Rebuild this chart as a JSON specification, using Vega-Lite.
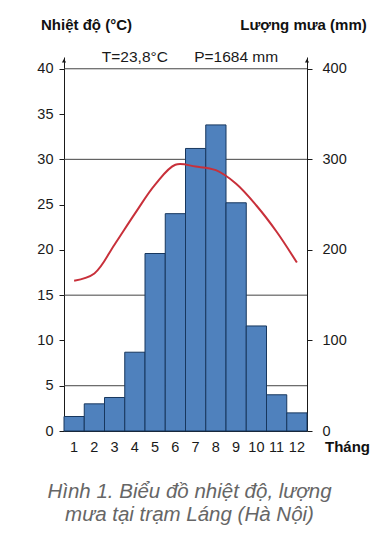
{
  "$schema": "https://vega.github.io/schema/vega-lite/v6.json",
  "width": 243,
  "height": 374,
  "autosize": "none",
  "padding": {"left": 64, "top": 57, "right": 71, "bottom": 112},
  "background": "white",
  "config": {
    "font": "Liberation Sans",
    "view": {"stroke": null},
    "axis": {"labelFont": "Liberation Sans", "titleFont": "Liberation Sans", "labelColor": "#1a1a1a", "titleColor": "#111111", "domainColor": "#1a1a1a", "tickColor": "#1a1a1a"}
  },
  "title": {
    "text": ["Hình 1. Biểu đồ nhiệt độ, lượng", "mưa tại trạm Láng (Hà Nội)"],
    "orient": "bottom",
    "anchor": "middle",
    "frame": "group",
    "font": "Liberation Sans",
    "fontSize": 20.5,
    "fontStyle": "italic",
    "fontWeight": "normal",
    "color": "#666666",
    "lineHeight": 23,
    "offset": 28,
    "dx": 4
  },
  "data": {
    "values": [
      {"month": 1, "temp": 16.6, "rain": 16},
      {"month": 2, "temp": 17.4, "rain": 30},
      {"month": 3, "temp": 20.6, "rain": 37},
      {"month": 4, "temp": 24.0, "rain": 87},
      {"month": 5, "temp": 27.2, "rain": 196},
      {"month": 6, "temp": 29.4, "rain": 240},
      {"month": 7, "temp": 29.2, "rain": 312},
      {"month": 8, "temp": 28.8, "rain": 338},
      {"month": 9, "temp": 27.3, "rain": 252},
      {"month": 10, "temp": 24.9, "rain": 116},
      {"month": 11, "temp": 22.0, "rain": 40},
      {"month": 12, "temp": 18.6, "rain": 20}
    ]
  },
  "layer": [
    {
      "data": {"values": [{"g": 5}, {"g": 15}, {"g": 30}, {"g": 40}]},
      "mark": {"type": "rule", "color": "#444444", "strokeWidth": 1},
      "encoding": {
        "y": {
          "field": "g", "type": "quantitative",
          "scale": {"domain": [0, 41.3], "nice": false, "zero": true},
          "axis": {
            "orient": "left",
            "values": [0, 5, 10, 15, 20, 25, 30, 35, 40],
            "grid": false,
            "tickSize": 5,
            "labelPadding": 6,
            "labelFontSize": 14.5,
            "title": "Nhiệt độ (°C)",
            "titleFontSize": 15,
            "titleFontWeight": "bold",
            "titleAngle": 0,
            "titleAlign": "center",
            "titleBaseline": "alphabetic",
            "titleX": 22,
            "titleY": -28
          }
        }
      }
    },
    {
      "mark": {"type": "bar", "fill": "#4F81BD", "stroke": "#17375E", "strokeWidth": 1},
      "encoding": {
        "x": {
          "field": "month", "type": "ordinal",
          "scale": {"paddingInner": 0, "paddingOuter": 0},
          "axis": {
            "labelAngle": 0,
            "ticks": false,
            "labelPadding": 9,
            "labelFontSize": 14.5,
            "title": "Tháng",
            "titleFontSize": 15,
            "titleFontWeight": "bold",
            "titleAlign": "center",
            "titleBaseline": "alphabetic",
            "titleX": 283,
            "titleY": 20
          }
        },
        "y": {
          "field": "rain", "type": "quantitative",
          "scale": {"domain": [0, 413], "nice": false},
          "axis": {
            "orient": "right",
            "values": [0, 100, 200, 300, 400],
            "grid": false,
            "tickSize": 5,
            "labelPadding": 10,
            "labelFontSize": 14.5,
            "title": "Lượng mưa (mm)",
            "titleFontSize": 15,
            "titleFontWeight": "bold",
            "titleAngle": 0,
            "titleAlign": "center",
            "titleBaseline": "alphabetic",
            "titleX": -4,
            "titleY": -28
          }
        }
      }
    },
    {
      "mark": {"type": "line", "color": "#C8303A", "strokeWidth": 2, "interpolate": "catmull-rom"},
      "encoding": {
        "x": {"field": "month", "type": "ordinal"},
        "y": {"field": "temp", "type": "quantitative", "scale": {"domain": [0, 41.3], "nice": false}, "axis": null}
      }
    },
    {
      "data": {"values": [{"label": "T=23,8°C", "m": 4}, {"label": "P=1684 mm", "m": 9}]},
      "mark": {"type": "text", "fontSize": 15.5, "fontWeight": "normal", "font": "Liberation Sans", "color": "#1a1a1a", "baseline": "middle", "align": "center"},
      "encoding": {
        "x": {"field": "m", "type": "ordinal"},
        "y": {"datum": 41.3, "type": "quantitative", "scale": {"domain": [0, 41.3], "nice": false}, "axis": null},
        "text": {"field": "label"}
      }
    },
    {
      "data": {"values": [{"m": 1}]},
      "mark": {"type": "point", "shape": "triangle-up", "size": 18, "filled": true, "color": "#1a1a1a", "opacity": 1},
      "encoding": {
        "x": {"field": "m", "type": "ordinal", "bandPosition": 0},
        "y": {"datum": 40.9, "type": "quantitative", "scale": {"domain": [0, 41.3], "nice": false}, "axis": null}
      }
    },
    {
      "data": {"values": [{"m": 12}]},
      "mark": {"type": "point", "shape": "triangle-up", "size": 18, "filled": true, "color": "#1a1a1a", "opacity": 1},
      "encoding": {
        "x": {"field": "m", "type": "ordinal", "bandPosition": 1},
        "y": {"datum": 40.9, "type": "quantitative", "scale": {"domain": [0, 41.3], "nice": false}, "axis": null}
      }
    }
  ],
  "resolve": {"scale": {"y": "independent"}, "axis": {"y": "independent"}}
}
